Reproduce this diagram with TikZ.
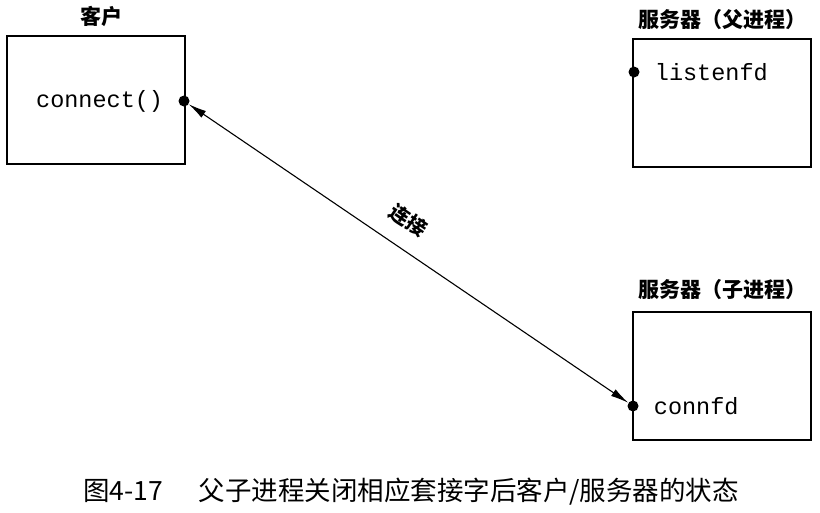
\documentclass[tikz,border=0pt]{standalone}
\usepackage{fontspec}
\setmonofont{Liberation Mono}
\newfontfamily\cjk{Noto Sans CJK SC}
\usetikzlibrary{positioning,arrows.meta}

\begin{document}
\begin{tikzpicture}[
        x=1pt, y=-1pt,
        box/.style={draw, rectangle, line width=1.2pt, minimum width=178pt, minimum height=128pt},
        sock/.style={circle, fill, inner sep=0pt, minimum size=11pt},
        fd/.style={font=\fontsize{23.5}{26}\selectfont\ttfamily, inner sep=0pt},
        title/.style={font=\fontsize{21}{24}\selectfont\cjk\bfseries, inner sep=0pt}
    ]
        \useasboundingbox (0,0) rectangle (820,512);

        % boxes
        \node[box] (client) at (96,100) {};
        \node[box] (parent) at (722,103) {};
        \node[box] (child) at (722,376) {};

        \node[title] (clientlbl) [above=9pt of client, xshift=5pt] {客户};
        \node[title] (parentlbl) [above=9pt of parent] {服务器（父进程）};
        \node[title] (childlbl) [above=12pt of child] {服务器（子进程）};

        % sockets
        \node[sock] (cdot) at (184,101) {};
        \node[sock] (ldot) at (634,72) {};
        \node[sock] (ndot) at (633,406) {};

        \node[fd] (connect) [left=15pt of cdot] {connect()};
        \node[fd] (listenfd) [right=15pt of ldot] {listenfd};
        \node[fd] (connfd) [right=15pt of ndot] {connfd};

        \draw[{Latex[length=18pt,width=8pt]}-{Latex[length=18pt,width=8pt]}, line width=1.1pt] (cdot) -- node[pos=0.465, sloped, above=17pt, title, font=\fontsize{20}{22}\selectfont\cjk\bfseries] (conn) {连接} (ndot);

        % caption
        \node[title, font=\fontsize{26.5}{30}\selectfont\cjk] (caption) at (411,492) {图4-17\hspace{1.35em}父子进程关闭相应套接字后客户/服务器的状态};
    \end{tikzpicture}
\end{document}
